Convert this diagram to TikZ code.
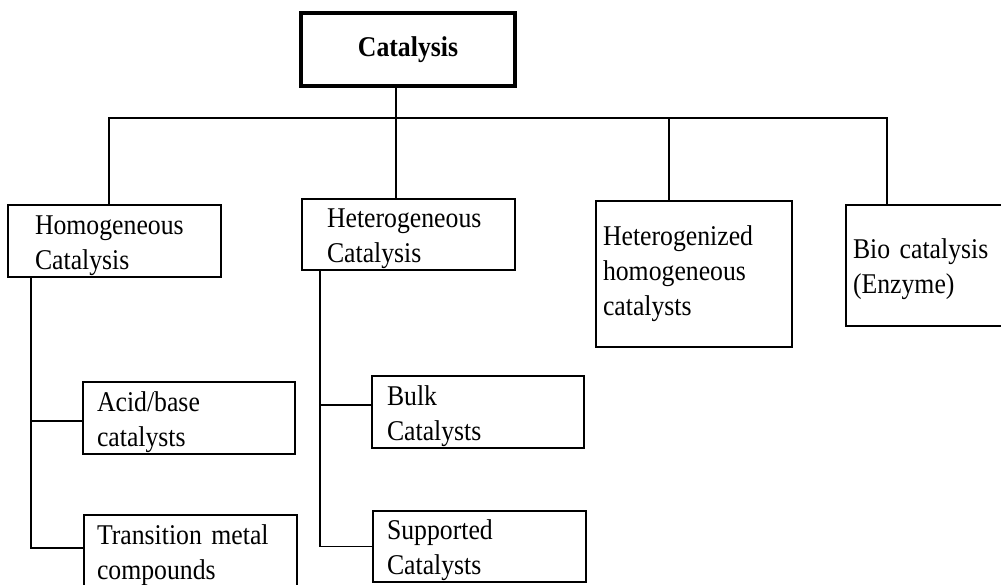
\documentclass[tikz,border=0pt]{standalone}
\usepackage{fontspec}
\setmainfont{Liberation Serif}[FakeStretch=0.9]
\usetikzlibrary{calc}
\newcommand{\boxfont}{\fontsize{14.3}{17.5}\selectfont}
\tikzset{
  catbox/.style={draw,line width=0.7pt,align=left,inner ysep=2pt,font=\boxfont},
  lowtext/.style={inner ysep=0pt,execute at begin node={\rule{0pt}{14pt}}},
  rootbox/.style={draw,line width=1.6pt,align=center,font=\boxfont\bfseries,
    minimum width=107pt,minimum height=36.5pt},
  tree/.style={line width=0.7pt}
}

\begin{document}
\begin{tikzpicture}[x=0.5pt,y=-0.5pt]
\clip (0,0) rectangle (1001,584);

\node[rootbox] (cat) at (408,49.5) {Catalysis};

\node[catbox,lowtext,text width=79.5pt,inner xsep=13.5pt,minimum height=36pt] (homo) at (114.5,241) {Homogeneous\\Catalysis};
\node[catbox,lowtext,text width=81.5pt,inner xsep=12.5pt,minimum height=35.5pt] (hetero) at (408.5,234.5) {Heterogeneous\\Catalysis};
\node[catbox,text width=91pt,inner xsep=3.5pt,minimum height=73pt] (hgz) at (694,274) {Heterogenized\\homogeneous\\catalysts};
\node[catbox,lowtext,text width=75pt,inner xsep=3.5pt,minimum height=60.5pt] (bio) at (928,265.5) {Bio catalysis\\(Enzyme)};

\node[catbox,lowtext,text width=92pt,inner xsep=7pt,minimum height=36pt] (acid) at (189,418) {Acid/base\\catalysts};
\node[catbox,lowtext,text width=93.5pt,inner xsep=6.5pt,minimum height=36pt] (trans) at (190.5,551) {Transition metal\\compounds};
\node[catbox,lowtext,text width=91pt,inner xsep=7.5pt,minimum height=36pt] (bulk) at (478,412) {Bulk\\Catalysts};
\node[catbox,lowtext,text width=92.5pt,inner xsep=7pt,minimum height=35.5pt] (supp) at (479.5,546.5) {Supported\\Catalysts};

% bus under the root
\coordinate (bl) at (109,118);
\coordinate (bt) at (396,118);
\coordinate (bm) at (669,118);
\coordinate (br) at (887,118);
\coordinate (ls) at (31,300);
\coordinate (ms) at (320,300);

\draw[tree] (homo.north -| bl) -- (bl) -- (br) -- (bio.north -| br);
\draw[tree] (cat.south -| bt) -- (hetero.north -| bt);
\draw[tree] (bm) -- (hgz.north -| bm);

% sub-trees
\draw[tree] (homo.south -| ls) |- ([yshift=1.5pt]trans.west);
\draw[tree] ([yshift=-1.5pt]acid.west) -- ([yshift=-1.5pt]acid.west -| ls);
\draw[tree] (hetero.south -| ms) |- (supp.west);
\draw[tree] ([yshift=3.5pt]bulk.west) -- ([yshift=3.5pt]bulk.west -| ms);

\end{tikzpicture}
\end{document}
